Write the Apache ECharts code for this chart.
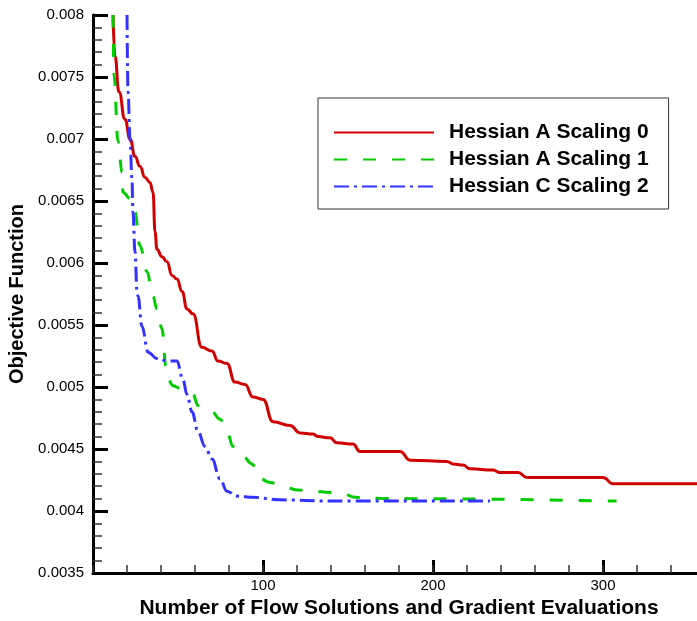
<!DOCTYPE html>
<html>
<head>
<meta charset="utf-8">
<script src="https://cdn.jsdelivr.net/npm/echarts@6/dist/echarts.min.js"></script>
<style>
html,body{margin:0;padding:0;background:#fff;}
#chart{width:697px;height:621px;}
</style>
</head>
<body>
<div id="chart"></div>
<script>
// ---- data ----
const seriesNames = ['Hessian A Scaling 0', 'Hessian A Scaling 1', 'Hessian C Scaling 2'];

const redX = [11.8, 12.9, 15.3, 18.8, 21.8, 24.7, 27.6, 30.6, 33.5, 35.3, 36.5, 37.6, 40.6, 43.5, 46.5, 49.4, 52.4, 55.3, 58.8, 64.1, 70, 73.5, 78.8, 83.5, 89.4, 94.1, 100, 105.9, 115.9, 121.8, 129.4, 132.4, 139.4, 143.5, 152.9, 157.1, 180.6, 186.5, 208.2, 211.8, 217.6, 221.8, 235.3, 239.4, 250, 255.3, 300, 305.9, 360];
const redY = [0.008, 0.00767, 0.00738, 0.00716, 0.0070, 0.00686, 0.00678, 0.00669, 0.00665, 0.00657, 0.00625, 0.00611, 0.00605, 0.00601, 0.00590, 0.00587, 0.00577, 0.00563, 0.00559, 0.00532, 0.00529, 0.00521, 0.00519, 0.00504, 0.00502, 0.00492, 0.00490, 0.00472, 0.00469, 0.00463, 0.00462, 0.00460, 0.00459, 0.00455, 0.00454, 0.00448, 0.00448, 0.00441, 0.00440, 0.00438, 0.00437, 0.00434, 0.00433, 0.00431, 0.00431, 0.00427, 0.00427, 0.00422, 0.00422];

const greenX = [11.8, 12.4, 14.7, 17.1, 17.6, 21.8, 24.7, 27.6, 31.8, 35.3, 37.6, 40.6, 42.9, 44.1, 47.1, 51.2, 58.8, 61.8, 70, 74.7, 78.8, 82.4, 88.2, 93.5, 98.2, 104.1, 111.8, 120, 129.4, 139.4, 147.1, 154.1, 172.9, 180.6, 308];
const greenY = [0.008, 0.00751, 0.00698, 0.00673, 0.00657, 0.00652, 0.00641, 0.00614, 0.00593, 0.00573, 0.00563, 0.00547, 0.00517, 0.00506, 0.00501, 0.00499, 0.00494, 0.00485, 0.00480, 0.00474, 0.00464, 0.00452, 0.00444, 0.00438, 0.00426, 0.00423, 0.00420, 0.00417, 0.00416, 0.00415, 0.00414, 0.00411, 0.00410, 0.00410, 0.00408];

const blueX = [20, 20.6, 21.8, 22.9, 23.5, 24.7, 25.9, 26.5, 28.8, 32.4, 37.6, 43.5, 49.4, 52.9, 55.3, 58.2, 61.8, 65.9, 70, 74.7, 78.8, 84.7, 94.1, 110, 139.4, 233.5];
const blueY = [0.008, 0.00738, 0.0070, 0.00668, 0.00641, 0.00609, 0.00577, 0.00573, 0.00549, 0.00528, 0.00523, 0.00521, 0.00521, 0.00506, 0.00494, 0.00480, 0.00464, 0.00452, 0.00442, 0.00426, 0.00416, 0.00412, 0.00411, 0.00409, 0.00408, 0.00408];

const xTitle = 'Number of Flow Solutions and Gradient Evaluations';
const yTitle = 'Objective Function';

function pairs(xs, ys) { return xs.map((x, i) => [x, ys[i]]); }

const FONT = 'Arial, "Liberation Sans", sans-serif';
const chart = echarts.init(document.getElementById('chart'), null, { renderer: 'canvas' });

const option = {
  animation: false,
  backgroundColor: '#ffffff',
  grid: { left: 93, top: 15, right: -8, bottom: 48, containLabel: false, outerBoundsMode: 'none' },
  legend: {
    orient: 'vertical',
    left: 318,
    top: 98,
    padding: [24, 20, 12, 15],
    itemWidth: 100,
    itemHeight: 18,
    itemGap: 6,
    borderColor: '#333',
    borderWidth: 1,
    backgroundColor: '#fff',
    itemStyle: { opacity: 0 },
    textStyle: { fontFamily: FONT, fontSize: 21, fontWeight: 'bold', color: '#000', lineHeight: 21, padding: [0, 0, 0, 10] },
    data: seriesNames
  },
  xAxis: [
    {
      type: 'value', min: 0, max: 360, interval: 100, position: 'bottom',
      name: xTitle, nameLocation: 'middle', nameGap: 23,
      nameTextStyle: { fontFamily: FONT, fontSize: 21, fontWeight: 'bold', color: '#000' },
      axisLine: { show: true, onZero: false, lineStyle: { color: '#000', width: 3 } },
      axisTick: { show: true, inside: true, length: 13, lineStyle: { color: '#000', width: 3 } },
      axisLabel: { fontFamily: FONT, fontSize: 15, color: '#000', margin: 5, showMinLabel: false, showMaxLabel: false },
      splitLine: { show: false }
    },
    {
      type: 'value', min: 0, max: 360, interval: 20, position: 'bottom', offset: 0,
      axisLine: { show: false, onZero: false },
      axisTick: { show: true, inside: true, length: 8, lineStyle: { color: '#333', width: 1.5 } },
      axisLabel: { show: false },
      splitLine: { show: false }
    }
  ],
  yAxis: {
    type: 'value', min: 0.0035, max: 0.008, interval: 0.0005,
    name: yTitle, nameLocation: 'middle', nameGap: 62,
    nameTextStyle: { fontFamily: FONT, fontSize: 20, fontWeight: 'bold', color: '#000' },
    axisLine: { show: true, onZero: false, lineStyle: { color: '#000', width: 3 } },
    axisTick: { show: true, inside: true, length: 15, lineStyle: { color: '#000', width: 3 } },
    minorTick: { show: true, splitNumber: 5, length: 9, lineStyle: { color: '#333', width: 1.5 } },
    axisLabel: { fontFamily: FONT, fontSize: 15, color: '#000', margin: 9,
      formatter: v => String(parseFloat(v.toPrecision(6))) },
    splitLine: { show: false }
  },
  series: [
    {
      name: seriesNames[0], type: 'line', xAxisIndex: 0, data: pairs(redX, redY),
      showSymbol: false, symbol: 'none', smooth: 0.5, smoothMonotone: 'x',
      lineStyle: { color: '#d00000', width: 3, type: 'solid' },
      itemStyle: { color: '#d00000' }
    },
    {
      name: seriesNames[1], type: 'line', xAxisIndex: 0, data: pairs(greenX, greenY),
      showSymbol: false, symbol: 'none', smooth: 0.4, smoothMonotone: 'x',
      lineStyle: { color: '#00cc00', width: 3, type: [13, 16] },
      itemStyle: { color: '#00cc00' }
    },
    {
      name: seriesNames[2], type: 'line', xAxisIndex: 0, data: pairs(blueX, blueY),
      showSymbol: false, symbol: 'none', smooth: 0.4, smoothMonotone: 'x',
      lineStyle: { color: '#3333ff', width: 3, type: [15, 5, 3, 5] },
      itemStyle: { color: '#3333ff' }
    }
  ]
};
chart.setOption(option);
</script>
</body>
</html>
